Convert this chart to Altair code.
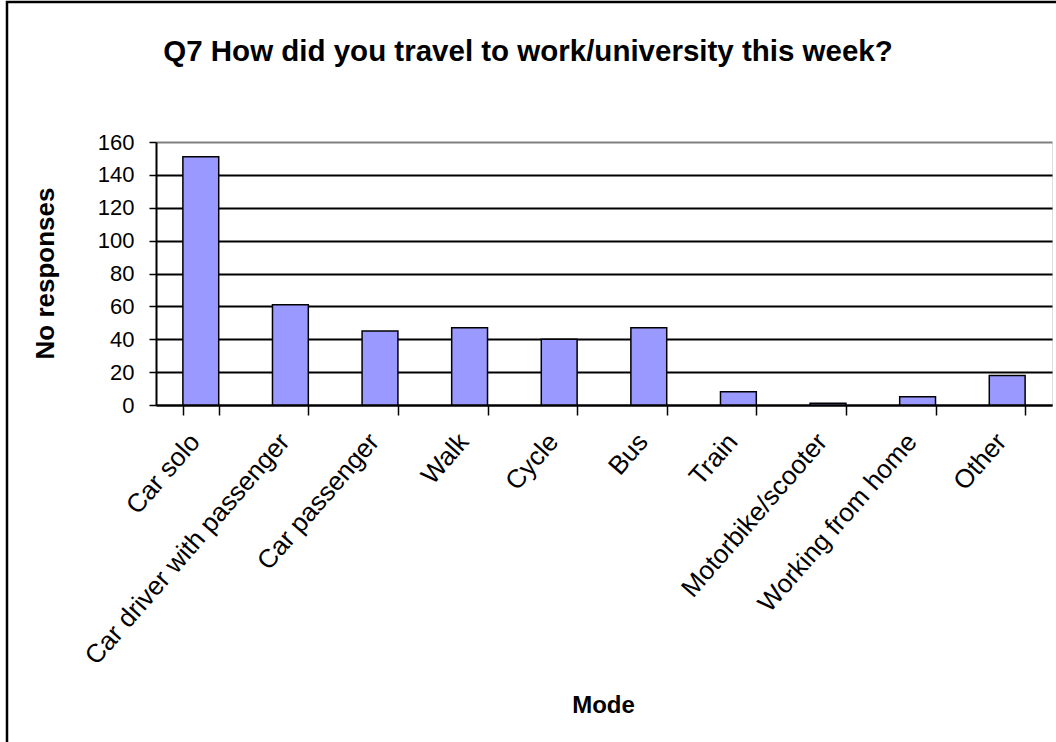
import altair as alt
import pandas as pd

title_text = "Q7 How did you travel to work/university this week?"
modes = ["Car solo", "Car driver with passenger", "Car passenger", "Walk", "Cycle",
         "Bus", "Train", "Motorbike/scooter", "Working from home", "Other"]
responses = [151, 61, 45, 47, 40, 47, 8, 1, 5, 18]

df = pd.DataFrame({"Mode": modes, "No responses": responses})

FONT = "Liberation Sans"

bars = alt.Chart(df).mark_bar(
    color="#9999FF", stroke="black", strokeWidth=1.5
).encode(
    x=alt.X("Mode:N", sort=modes,
            scale=alt.Scale(paddingInner=0.6, paddingOuter=0.3),
            axis=alt.Axis(
                title="Mode", labelAngle=-49, labelAlign="right", labelBaseline="middle",
                labelFontSize=26, labelFont=FONT, labelColor="black", labelPadding=22,
                labelOffset=-6, labelLimit=500,
                tickBand="extent", tickSize=10, tickColor="black", tickWidth=1.5,
                domainColor="black", domainWidth=2,
                titleFont=FONT, titleFontSize=24, titleFontWeight="bold", titleColor="black",
                titleX=447, titleY=300, titleAlign="center", titleBaseline="middle",
            )),
    y=alt.Y("No responses:Q",
            scale=alt.Scale(domain=[0, 160], nice=False),
            axis=alt.Axis(
                title="No responses", values=[0, 20, 40, 60, 80, 100, 120, 140, 160],
                labelFontSize=22, labelFont=FONT, labelColor="black", labelPadding=15,
                tickSize=7, tickColor="black", tickWidth=1.5,
                domainColor="black", domainWidth=2,
                grid=True, gridColor={"condition": {"test": "datum.value === 160", "value": "#808080"}, "value": "black"},
                gridWidth=2,
                titleFont=FONT, titleFontSize=26, titleFontWeight="bold", titleColor="black",
                titleX=-111, titleY=131, titleAlign="center", titleBaseline="middle", titleAngle=-90,
            )),
)

border = alt.Chart(df).mark_rect(fill=None, stroke="black", strokeWidth=2.5, clip=False).encode(
    x=alt.value(-149), x2=alt.value(1000), y=alt.value(-140), y2=alt.value(700)
).transform_filter("datum.Mode == 'Car solo'")

title = alt.Chart(pd.DataFrame({"t": [title_text]})).mark_text(
    font=FONT, fontSize=29.5, fontWeight="bold", color="black",
    align="center", baseline="alphabetic", clip=False
).encode(
    text="t:N", x=alt.value(372), y=alt.value(-81)
)

chart = alt.layer(border, bars, title).properties(
    width=896, height=263,
    padding={"left": 156, "top": 142, "right": 4, "bottom": 337},
    autosize=alt.AutoSizeParams(type="none"),
).configure_view(
    fill="#C0C0C0", stroke="#808080", strokeWidth=2
).configure(background="white")

chart.save("out.html", embed_options={"renderer": "svg", "actions": False})
